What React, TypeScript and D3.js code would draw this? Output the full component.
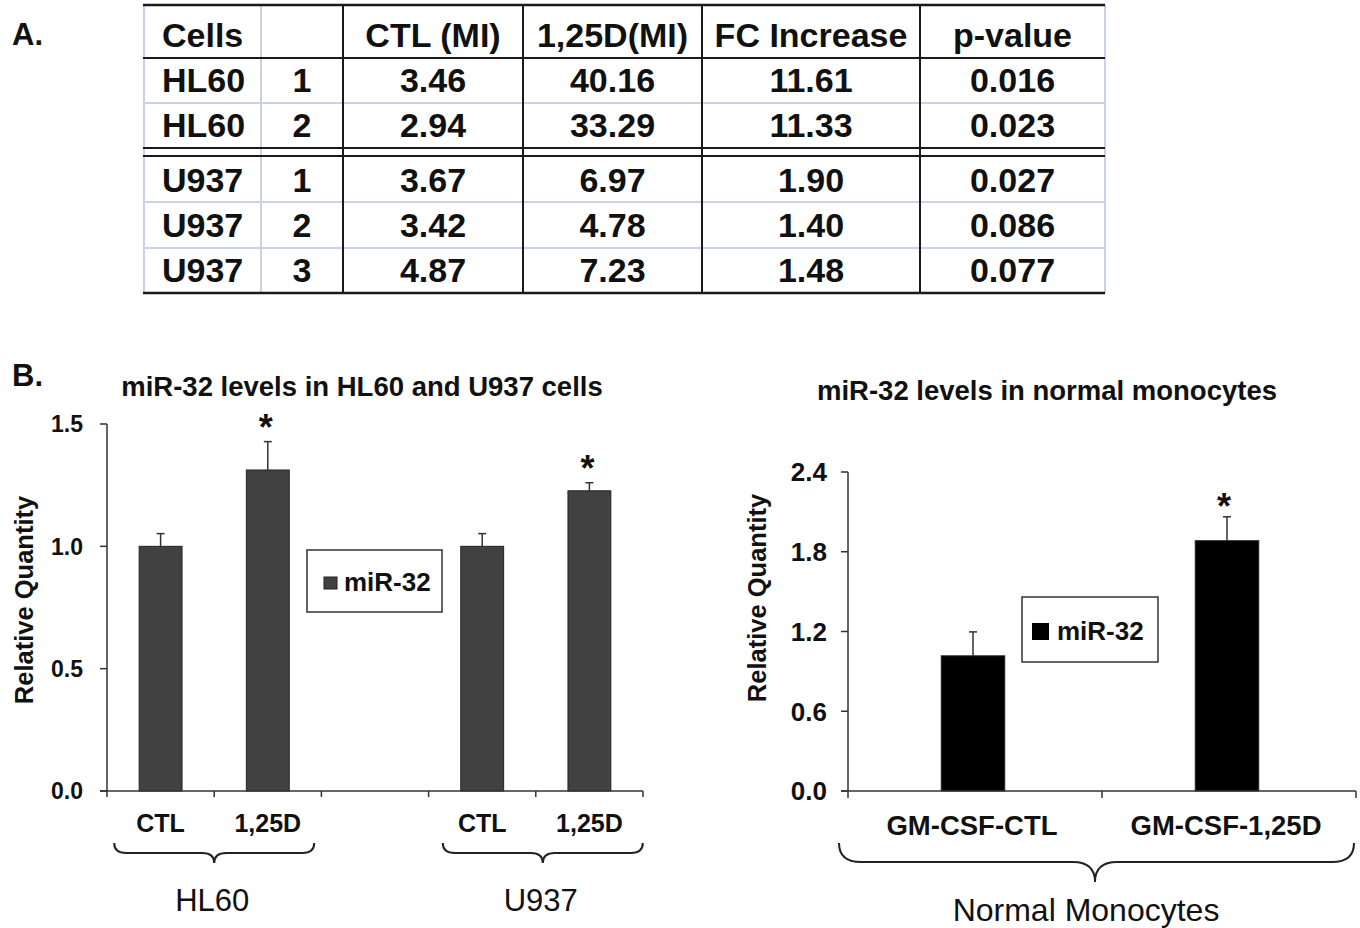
import React from "react";
import * as d3 from "d3";

// ---------- Panel A table data ----------
const tableHeaders = ["Cells", "", "CTL (MI)", "1,25D(MI)", "FC Increase", "p-value"];
const tableCells = ["HL60", "HL60", "U937", "U937", "U937"];
const tableReps = ["1", "2", "1", "2", "3"];
const ctlMI = ["3.46", "2.94", "3.67", "3.42", "4.87"];
const d3MI = ["40.16", "33.29", "6.97", "4.78", "7.23"];
const fcIncrease = ["11.61", "11.33", "1.90", "1.40", "1.48"];
const pValues = ["0.016", "0.023", "0.027", "0.086", "0.077"];

// ---------- Panel B left: cell lines ----------
const cellKeys = ["hl60-ctl", "hl60-d", "gap", "u937-ctl", "u937-d"];
const cellLabels = ["CTL", "1,25D", "", "CTL", "1,25D"];
const cellValues = [1.0, 1.312, null, 1.0, 1.227];
const cellErrors = [0.052, 0.116, null, 0.052, 0.033];
const cellSignif = [false, true, false, false, true];
const cellGroups = ["HL60", "U937"];
const cellGroupMembers = [[0, 1], [3, 4]];
const cellTicks = [0, 0.5, 1.0, 1.5];

// ---------- Panel B right: normal monocytes ----------
const monoKeys = ["GM-CSF-CTL", "GM-CSF-1,25D"];
const monoValues = [1.017, 1.883];
const monoErrors = [0.18, 0.18];
const monoSignif = [false, true];
const monoTicks = [0, 0.6, 1.2, 1.8, 2.4];

const FONT = "'Liberation Sans', Arial, Helvetica, sans-serif";
const AXIS = "#333";

function brace(x0: number, x1: number, cx: number, y0: number, y1: number, y2: number, r: number) {
  return `M${x0},${y0} Q${x0},${y1} ${x0 + r},${y1} L${cx - r},${y1} Q${cx},${y1} ${cx},${y2} Q${cx},${y1} ${cx + r},${y1} L${x1 - r},${y1} Q${x1},${y1} ${x1},${y0}`;
}

function Table() {
  const colEdges = [144, 261, 343, 523, 702, 920, 1105];
  const colX = d3.scaleOrdinal<number, number>().domain([0, 1, 2, 3, 4, 5]).range(
    colEdges.slice(0, 6).map((e, i) => (i === 0 ? 162 : (e + colEdges[i + 1]) / 2))
  );
  const rowBase = [47, 92, 137, 192, 237, 282];
  const rows = tableCells.map((c, i) => [c, tableReps[i], ctlMI[i], d3MI[i], fcIncrease[i], pValues[i]]);
  const all = [tableHeaders, ...rows];
  const light = "#c9d3e8";
  const dark = "#1a1a1a";
  const L = colEdges[0];
  const R = colEdges[6];
  return (
    <g>
      {[103, 202, 248].map((y) => (
        <line key={"lh" + y} x1={L} x2={R} y1={y} y2={y} stroke={light} strokeWidth={2} />
      ))}
      {[144, 261, 1105].map((x) => (
        <line key={"lv" + x} x1={x} x2={x} y1={5} y2={293} stroke={light} strokeWidth={2} />
      ))}
      {[343, 523, 702, 920].map((x) => (
        <line key={"dv" + x} x1={x} x2={x} y1={5} y2={293} stroke={dark} strokeWidth={2} />
      ))}
      {[5, 58, 148, 156, 293].map((y) => (
        <line key={"dh" + y} x1={L - 1} x2={R} y1={y} y2={y} stroke={dark} strokeWidth={y === 5 || y === 293 ? 2.5 : 2.2} />
      ))}
      {all.map((row, ri) =>
        row.map((t, ci) => (
          <text
            key={ri + "-" + ci}
            x={colX(ci)}
            y={rowBase[ri]}
            textAnchor={ci === 0 ? "start" : "middle"}
            fontFamily={FONT}
            fontWeight="bold"
            fontSize={34}
            fill="#111"
          >
            {t}
          </text>
        ))
      )}
    </g>
  );
}

function LeftChart() {
  const x = d3.scaleBand<string>().domain(cellKeys).range([107, 643]).padding(0);
  const y = d3.scaleLinear().domain([0, 1.5]).range([791, 424]);
  const bw = x.bandwidth() * 0.4;
  const boundaries = d3.range(cellKeys.length + 1).map((i) => 107 + i * x.bandwidth());
  return (
    <g fontFamily={FONT}>
      <text x={362} y={396} textAnchor="middle" fontWeight="bold" fontSize={27.5} fill="#111">
        miR-32 levels in HL60 and U937 cells
      </text>
      {cellKeys.map((k, i) => {
        const v = cellValues[i];
        if (v == null) return null;
        const cx = (x(k) as number) + x.bandwidth() / 2;
        const top = y(v);
        const et = y(v + (cellErrors[i] as number));
        return (
          <g key={k}>
            <line x1={cx} x2={cx} y1={top} y2={et} stroke="#333" strokeWidth={1.5} />
            <line x1={cx - 4} x2={cx + 4} y1={et} y2={et} stroke="#333" strokeWidth={1.5} />
            <rect x={cx - bw / 2} y={top} width={bw} height={y(0) - top} fill="#414141" stroke="#222" strokeWidth={1} />
            {cellSignif[i] && (
              <text x={cx - 2} y={et - 2} textAnchor="middle" fontWeight="bold" fontSize={36} fill="#111">
                *
              </text>
            )}
          </g>
        );
      })}
      <line x1={107} x2={107} y1={y(1.5)} y2={y(0)} stroke={AXIS} strokeWidth={1.5} />
      <line x1={100} x2={643} y1={y(0)} y2={y(0)} stroke={AXIS} strokeWidth={1.5} />
      {cellTicks.map((t) => (
        <g key={t}>
          <line x1={100} x2={107} y1={y(t)} y2={y(t)} stroke={AXIS} strokeWidth={1.5} />
          <text x={83} y={y(t)} dy="0.36em" textAnchor="end" fontWeight="bold" fontSize={23} fill="#111">
            {d3.format(".1f")(t)}
          </text>
        </g>
      ))}
      {boundaries.map((b) => (
        <line key={b} x1={b} x2={b} y1={y(0)} y2={y(0) + 6} stroke={AXIS} strokeWidth={1.5} />
      ))}
      {cellKeys.map((k, i) =>
        cellLabels[i] ? (
          <text key={"l" + k} x={(x(k) as number) + x.bandwidth() / 2} y={832} textAnchor="middle" fontWeight="bold" fontSize={25} fill="#111">
            {cellLabels[i]}
          </text>
        ) : null
      )}
      {cellGroups.map((g, gi) => {
        const [a, b] = cellGroupMembers[gi];
        const cx = ((x(cellKeys[a]) as number) + (x(cellKeys[b]) as number) + x.bandwidth()) / 2 + (gi === 1 ? 7 : 0);
        return (
          <g key={g}>
            <path d={brace(cx - 100, cx + 100, cx, 843, 853, 863, 12)} fill="none" stroke="#222" strokeWidth={2} />
            <text x={cx - 2} y={911} textAnchor="middle" fontSize={31} fill="#111">
              {g}
            </text>
          </g>
        );
      })}
      <rect x={307} y={550} width={135} height={62} fill="#fff" stroke="#333" strokeWidth={1.5} />
      <rect x={324} y={577} width={13} height={12} fill="#414141" stroke="#222" strokeWidth={1} />
      <text x={344} y={591} fontWeight="bold" fontSize={26} fill="#111">
        miR-32
      </text>
      <text transform="translate(24,600) rotate(-90)" dy="0.36em" textAnchor="middle" fontWeight="bold" fontSize={25.5} fill="#111">
        Relative Quantity
      </text>
    </g>
  );
}

function RightChart() {
  const x = d3.scaleBand<string>().domain(monoKeys).range([848, 1356]).padding(0);
  const y = d3.scaleLinear().domain([0, 2.4]).range([791, 472]);
  const bw = x.bandwidth() * 0.25;
  const boundaries = d3.range(monoKeys.length + 1).map((i) => 848 + i * x.bandwidth());
  const cxAll = (848 + 1356) / 2;
  return (
    <g fontFamily={FONT}>
      <text x={1047} y={400} textAnchor="middle" fontWeight="bold" fontSize={27.5} fill="#111">
        miR-32 levels in normal monocytes
      </text>
      {monoKeys.map((k, i) => {
        const v = monoValues[i];
        const cx = (x(k) as number) + x.bandwidth() / 2 - 2;
        const top = y(v);
        const et = y(v + monoErrors[i]);
        return (
          <g key={k}>
            <line x1={cx} x2={cx} y1={top} y2={et} stroke="#333" strokeWidth={1.5} />
            <line x1={cx - 4} x2={cx + 4} y1={et} y2={et} stroke="#333" strokeWidth={1.5} />
            <rect x={cx - bw / 2} y={top} width={bw} height={y(0) - top} fill="#000" stroke="#222" strokeWidth={1} />
            {monoSignif[i] && (
              <text x={cx - 3} y={et + 2} textAnchor="middle" fontWeight="bold" fontSize={36} fill="#111">
                *
              </text>
            )}
          </g>
        );
      })}
      <line x1={848} x2={848} y1={y(2.4)} y2={y(0)} stroke={AXIS} strokeWidth={1.5} />
      <line x1={841} x2={1356} y1={y(0)} y2={y(0)} stroke={AXIS} strokeWidth={1.5} />
      {monoTicks.map((t) => (
        <g key={t}>
          <line x1={841} x2={848} y1={y(t)} y2={y(t)} stroke={AXIS} strokeWidth={1.5} />
          <text x={827} y={y(t)} dy="0.36em" textAnchor="end" fontWeight="bold" fontSize={26} fill="#111">
            {d3.format(".1f")(t)}
          </text>
        </g>
      ))}
      {boundaries.map((b) => (
        <line key={b} x1={b} x2={b} y1={y(0)} y2={y(0) + 7} stroke={AXIS} strokeWidth={1.5} />
      ))}
      {monoKeys.map((k) => (
        <text key={"l" + k} x={(x(k) as number) + x.bandwidth() / 2 - 3} y={835} textAnchor="middle" fontWeight="bold" fontSize={27.5} fill="#111">
          {k}
        </text>
      ))}
      <path d={brace(839, 1354, cxAll - 7, 843, 862, 882, 22)} fill="none" stroke="#222" strokeWidth={2} />
      <text x={cxAll - 16} y={921} textAnchor="middle" fontSize={32} fill="#111">
        Normal Monocytes
      </text>
      <rect x={1022} y={597} width={136} height={65} fill="#fff" stroke="#333" strokeWidth={1.5} />
      <rect x={1032} y={623} width={17} height={17} fill="#000" />
      <text x={1057} y={640} fontWeight="bold" fontSize={26} fill="#111">
        miR-32
      </text>
      <text transform="translate(757,598) rotate(-90)" dy="0.36em" textAnchor="middle" fontWeight="bold" fontSize={25.5} fill="#111">
        Relative Quantity
      </text>
    </g>
  );
}

export default function App() {
  return (
    <svg
      width={1360}
      height={928}
      viewBox="0 0 1360 928"
      style={{ position: "absolute", left: 0, top: 0, background: "#fff", display: "block" }}
    >
      <rect width={1360} height={928} fill="#fff" />
      <text x={12} y={45} fontFamily={FONT} fontWeight="bold" fontSize={31} fill="#111">
        A.
      </text>
      <text x={12} y={386} fontFamily={FONT} fontWeight="bold" fontSize={31} fill="#111">
        B.
      </text>
      <Table />
      <LeftChart />
      <RightChart />
    </svg>
  );
}
